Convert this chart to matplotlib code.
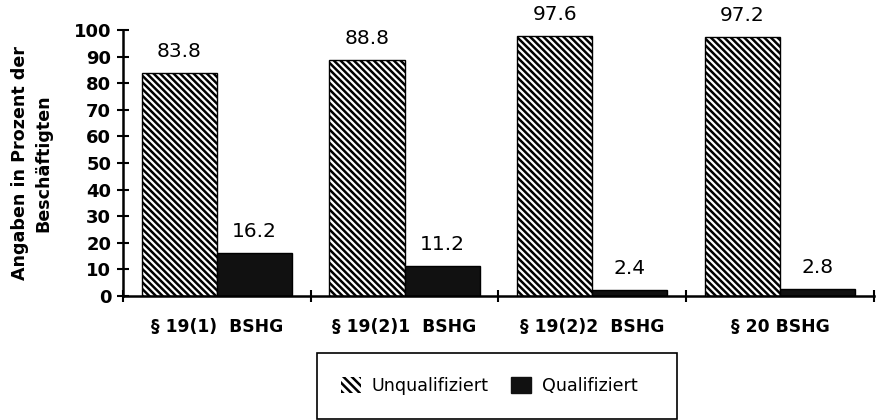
import numpy as np
import matplotlib
matplotlib.use("Agg")
import matplotlib.pyplot as plt
from matplotlib.patches import Rectangle, Patch

plt.rcParams["font.family"] = ["DejaVu Sans"]
plt.rcParams["hatch.linewidth"] = 1.8

categories = ["§ 19(1)  BSHG", "§ 19(2)1  BSHG", "§ 19(2)2  BSHG", "§ 20 BSHG"]
unqualifiziert = [83.8, 88.8, 97.6, 97.2]
qualifiziert = [16.2, 11.2, 2.4, 2.8]
yticks = list(range(0, 101, 10))

HATCH = "\\" * 5

fig = plt.figure(figsize=(8.76, 4.2), dpi=100)
ax = fig.add_axes([0.1404, 0.295, 0.857, 0.6336])

x = np.arange(len(categories)) + 0.5
w = 0.4
ax.bar(x - w / 2, unqualifiziert, w, color="white", edgecolor="black",
       hatch=HATCH, linewidth=1.0)
ax.bar(x + w / 2, qualifiziert, w, color="#111111", edgecolor="black",
       linewidth=1.0)

for xi, v in zip(x - w / 2, unqualifiziert):
    ax.text(xi, v + 4.5, f"{v:.1f}", ha="center", va="bottom", fontsize=14.5)
for xi, v in zip(x + w / 2, qualifiziert):
    ax.text(xi, v + 4.5, f"{v:.1f}", ha="center", va="bottom", fontsize=14.5)

ax.set_xlim(0, len(categories))
ax.set_ylim(0, 100)
ax.set_yticks(yticks)
ax.set_yticklabels([str(t) for t in yticks], fontsize=13, fontweight="bold")
ax.tick_params(axis="y", direction="inout", length=9, width=1.5, pad=4)

ax.set_xticks(x)
ax.set_xticklabels(categories, fontsize=12.3, fontweight="bold")
ax.tick_params(axis="x", which="major", length=0, pad=16)
ax.set_xticks(np.arange(len(categories) + 1), minor=True)
ax.tick_params(axis="x", which="minor", direction="inout", length=9, width=1.5)

for s in ["top", "right"]:
    ax.spines[s].set_visible(False)
for s in ["left", "bottom"]:
    ax.spines[s].set_linewidth(1.8)

ax.set_ylabel("Angaben in Prozent der\nBeschäftigten", fontsize=12.6,
              fontweight="bold", labelpad=15, linespacing=1.45)

# legend in a plain rectangular box below the plot
fig.patches.append(Rectangle((317 / 876, 1 - 419 / 420), 360 / 876, 66 / 420,
                             transform=fig.transFigure, fill=False,
                             edgecolor="black", linewidth=1.2))
handles = [Patch(facecolor="white", edgecolor="black", hatch="\\" * 4, linewidth=0),
           Patch(facecolor="#111111", edgecolor="#111111")]
fig.legend(handles, ["Unqualifiziert", "Qualifiziert"], ncol=2, frameon=False,
           loc="center left", bbox_to_anchor=(332 / 876, 1 - 386 / 420),
           fontsize=12.6, handlelength=1.15, handleheight=1.05,
           handletextpad=0.6, columnspacing=1.3, borderpad=0)

fig.savefig("out.png", dpi=100)
